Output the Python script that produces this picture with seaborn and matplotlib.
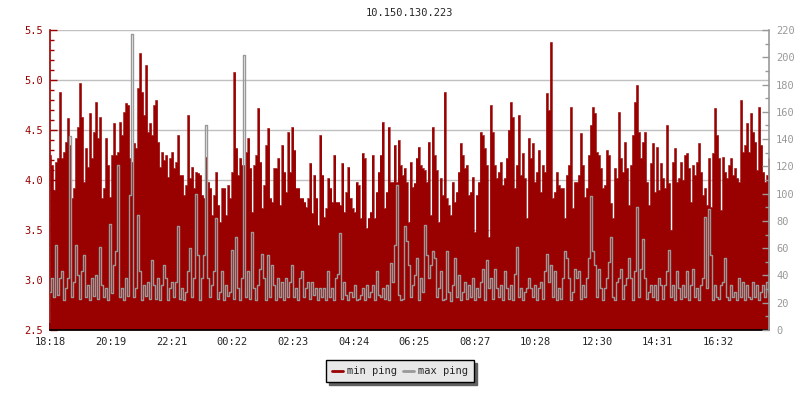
import numpy as np
import matplotlib
matplotlib.use("Agg")
import matplotlib.pyplot as plt
from matplotlib.lines import Line2D
from matplotlib.ticker import MultipleLocator, FormatStrFormatter
import seaborn as sns

sns.set_style("white")
plt.rcParams['font.family'] = ['DejaVu Sans Mono', 'DejaVu Sans']

title = "10.150.130.223"
tick_labels = ["18:18", "20:19", "22:21", "00:22", "02:23", "04:24",
               "06:25", "08:27", "10:28", "12:30", "14:31", "16:32"]
span_minutes = 1436

# min ping (left axis, ms), ~4 min per sample
min_ping = [
    4.25, 4.15, 3.90, 4.18, 4.22, 4.88, 4.22, 4.28, 4.38, 4.62,
    4.35, 3.82, 3.92, 4.42, 4.53, 4.97, 4.63, 3.98, 4.32, 4.13,
    4.67, 4.22, 4.48, 4.78, 4.42, 4.63, 3.82, 3.92, 4.42, 4.15,
    3.83, 4.25, 4.57, 4.25, 4.28, 4.58, 4.45, 4.68, 4.77, 4.75,
    4.22, 4.18, 4.37, 4.32, 4.92, 5.27, 4.88, 4.65, 5.15, 4.48,
    4.57, 4.45, 4.75, 4.80, 4.38, 4.13, 4.28, 4.20, 4.25, 4.03,
    4.22, 4.28, 4.12, 4.18, 4.45, 4.05, 4.05, 3.85, 3.95, 4.65,
    4.02, 4.13, 3.92, 4.08, 4.07, 4.05, 3.85, 3.82, 4.23, 3.98,
    3.92, 3.65, 3.85, 4.08, 3.75, 3.58, 3.92, 3.92, 3.65, 3.95,
    3.82, 4.08, 5.08, 4.32, 4.05, 4.22, 4.15, 4.15, 4.28, 4.42,
    4.12, 3.68, 4.15, 4.25, 4.72, 4.18, 3.72, 3.95, 4.35, 4.52,
    3.82, 3.78, 4.12, 4.12, 4.22, 3.75, 4.35, 4.08, 3.88, 4.48,
    4.08, 4.53, 4.30, 3.92, 3.92, 3.82, 3.82, 3.78, 3.73, 3.82,
    4.17, 3.67, 4.05, 3.82, 3.55, 4.45, 4.05, 3.63, 3.72, 4.02,
    3.92, 3.78, 4.25, 3.78, 3.78, 3.75, 4.17, 3.68, 3.88, 4.13,
    3.82, 3.72, 3.68, 3.98, 3.95, 3.62, 4.27, 4.22, 3.52, 3.62,
    3.68, 4.25, 3.62, 3.88, 4.08, 4.25, 4.58, 3.72, 3.88, 4.53,
    3.98, 3.98, 4.35, 3.98, 4.40, 4.15, 4.05, 4.12, 3.98, 3.58,
    4.18, 3.93, 3.97, 4.22, 4.33, 4.15, 4.12, 4.10, 3.98, 4.38,
    3.65, 4.53, 4.25, 4.10, 3.58, 4.02, 3.85, 4.88, 3.82, 3.75,
    3.65, 3.98, 3.78, 3.88, 4.08, 4.37, 4.25, 4.12, 4.15, 3.85,
    3.88, 4.03, 3.48, 3.85, 3.98, 4.48, 4.45, 4.32, 4.15, 3.43,
    4.75, 4.48, 4.15, 4.02, 4.08, 4.18, 3.95, 4.02, 4.22, 4.50,
    4.78, 4.63, 3.92, 4.15, 4.65, 4.05, 4.27, 4.02, 3.62, 4.42,
    4.22, 4.37, 3.98, 4.08, 4.30, 3.88, 4.15, 4.08, 4.87, 4.70,
    5.38, 3.82, 3.88, 4.08, 3.95, 3.92, 3.92, 3.62, 4.05, 4.15,
    4.73, 3.72, 3.98, 3.98, 4.05, 4.47, 4.15, 3.83, 3.92, 4.25,
    4.55, 4.73, 4.67, 4.28, 4.25, 4.12, 3.92, 3.95, 4.30, 4.25,
    3.77, 3.62, 4.12, 4.02, 4.68, 4.22, 4.08, 4.38, 4.12, 3.75,
    4.15, 4.45, 4.78, 4.95, 4.48, 4.22, 4.38, 4.48, 3.98, 3.75,
    4.17, 4.37, 3.88, 4.33, 3.90, 4.17, 4.02, 3.92, 4.55, 3.97,
    3.50, 4.18, 4.32, 3.98, 4.02, 4.18, 4.00, 4.25, 4.27, 4.12,
    3.78, 4.15, 4.05, 4.18, 4.37, 4.08, 3.85, 3.92, 3.75, 4.22,
    3.73, 4.27, 4.72, 4.45, 4.22, 3.70, 4.23, 4.08, 4.02, 4.15,
    4.22, 4.05, 4.12, 4.02, 3.98, 4.80, 4.28, 4.35, 4.57, 4.28,
    4.67, 4.48, 4.38, 4.10, 4.73, 4.35, 4.08, 3.98, 4.05, 4.22,
]

# max ping (right axis, ms)
max_ping = [
    28, 38, 24, 62, 26, 38, 43, 22, 31, 38,
    142, 24, 35, 62, 40, 23, 43, 55, 24, 33,
    22, 38, 25, 40, 23, 61, 33, 24, 31, 22,
    78, 27, 48, 58, 121, 24, 31, 22, 38, 25,
    99, 217, 24, 31, 84, 43, 22, 33, 25, 35,
    23, 51, 33, 23, 38, 22, 33, 48, 38, 22,
    31, 35, 24, 35, 76, 23, 31, 22, 28, 43,
    60, 24, 38, 100, 55, 22, 38, 55, 150, 38,
    24, 33, 43, 82, 23, 28, 43, 22, 33, 25,
    28, 59, 23, 68, 31, 22, 38, 202, 24, 43,
    23, 72, 31, 22, 33, 45, 56, 38, 22, 55,
    24, 48, 33, 22, 38, 24, 35, 22, 38, 24,
    35, 48, 24, 31, 22, 38, 43, 24, 31, 35,
    23, 35, 26, 31, 22, 31, 24, 31, 22, 43,
    24, 31, 22, 38, 41, 71, 23, 35, 26, 22,
    28, 24, 33, 22, 23, 26, 31, 22, 33, 24,
    28, 33, 22, 43, 26, 24, 31, 23, 33, 22,
    49, 35, 62, 106, 26, 22, 23, 76, 65, 48,
    24, 33, 40, 53, 22, 38, 28, 77, 55, 38,
    48, 58, 53, 24, 31, 43, 22, 23, 58, 28,
    21, 33, 53, 24, 40, 22, 28, 35, 23, 33,
    24, 38, 22, 31, 24, 35, 45, 22, 51, 31,
    38, 23, 45, 31, 24, 33, 22, 43, 31, 23,
    33, 22, 41, 61, 24, 31, 22, 28, 31, 38,
    31, 24, 33, 22, 31, 35, 23, 43, 56, 35,
    48, 24, 43, 22, 31, 23, 38, 58, 53, 38,
    22, 28, 45, 38, 43, 23, 33, 24, 38, 53,
    98, 58, 48, 24, 45, 31, 22, 31, 38, 50,
    68, 24, 22, 35, 38, 45, 23, 33, 38, 53,
    38, 22, 43, 90, 24, 45, 67, 38, 23, 28,
    33, 24, 33, 22, 38, 33, 23, 33, 43, 59,
    24, 33, 22, 43, 31, 23, 33, 24, 43, 22,
    33, 45, 24, 31, 22, 33, 38, 83, 31, 89,
    55, 22, 33, 24, 23, 33, 35, 53, 24, 22,
    33, 24, 28, 22, 38, 24, 35, 22, 33, 24,
    23, 35, 24, 33, 22, 28, 33, 24, 35, 28,
]

red = "#990000"
grey = "#999999"
fs = 7.5

t = np.linspace(0, span_minutes, len(min_ping))


def to_minutes(label):
    h, m = map(int, label.split(":"))
    start_h, start_m = map(int, tick_labels[0].split(":"))
    return ((h * 60 + m) - (start_h * 60 + start_m)) % 1440


tick_pos = [to_minutes(lab) for lab in tick_labels]

fig = plt.figure(figsize=(8, 4), dpi=100)
ax = fig.add_axes([0.0625, 0.175, 0.899, 0.75])

ax.fill_between(t, 2.5, min_ping, step="mid", color=red, lw=0, zorder=2)
sns.lineplot(x=t, y=min_ping, ax=ax, color=red, lw=0.4, drawstyle="steps-mid",
             zorder=2)

ax.set_xlim(0, span_minutes)
ax.set_ylim(2.5, 5.5)
ax.yaxis.set_major_locator(MultipleLocator(0.5))
ax.yaxis.set_minor_locator(MultipleLocator(0.1))
ax.yaxis.set_major_formatter(FormatStrFormatter("%.1f"))
ax.set_xticks(tick_pos)
ax.set_xticklabels(tick_labels)
ax.grid(axis="y", color="#c0c0c0", lw=1)
ax.grid(axis="x", visible=False)
ax.set_axisbelow(True)
ax.tick_params(axis="y", which="major", direction="in", length=5, width=1,
               color=red, labelcolor=red, labelsize=fs, pad=5, left=True)
ax.tick_params(axis="y", which="minor", direction="in", length=3, width=1,
               color=red, left=True)
ax.tick_params(axis="x", direction="in", length=5, width=1.2, color="black",
               labelsize=fs, pad=5, bottom=True)
ax.spines["top"].set_visible(False)
ax.spines["right"].set_visible(False)
ax.spines["left"].set_color(red)
ax.spines["left"].set_linewidth(1.2)
ax.spines["bottom"].set_color("black")
ax.spines["bottom"].set_linewidth(1.2)
ax.set_xlabel("")
ax.set_ylabel("")

ax2 = ax.twinx()
sns.lineplot(x=t, y=max_ping, ax=ax2, color=grey, lw=1.0, drawstyle="steps-mid")
ax2.set_ylim(0, 220)
ax2.yaxis.set_major_locator(MultipleLocator(20))
ax2.yaxis.set_minor_locator(MultipleLocator(10))
ax2.tick_params(axis="y", which="major", direction="in", length=5, width=1,
                color=grey, labelcolor=grey, labelsize=fs, pad=5, right=True)
ax2.tick_params(axis="y", which="minor", direction="in", length=3, width=1,
                color=grey, right=True)
for s in ["top", "left", "bottom"]:
    ax2.spines[s].set_visible(False)
ax2.spines["right"].set_color(grey)
ax2.spines["right"].set_linewidth(1.2)
ax2.set_ylabel("")
ax2.grid(False)

ax.set_title(title, fontsize=fs, pad=10)

handles = [Line2D([], [], color=red, lw=2), Line2D([], [], color=grey, lw=2)]
leg = fig.legend(handles, ["min ping", "max ping"], loc="center",
                 bbox_to_anchor=(0.5, 0.072), ncol=2, fontsize=fs,
                 frameon=True, fancybox=False, framealpha=1,
                 facecolor="#e8e8e8", edgecolor="black",
                 shadow={"color": "#606060", "alpha": 1},
                 handlelength=1.0, handletextpad=0.4, columnspacing=0.6,
                 borderpad=0.6)
leg.get_frame().set_linewidth(1)

fig.savefig("out.png", dpi=100)
